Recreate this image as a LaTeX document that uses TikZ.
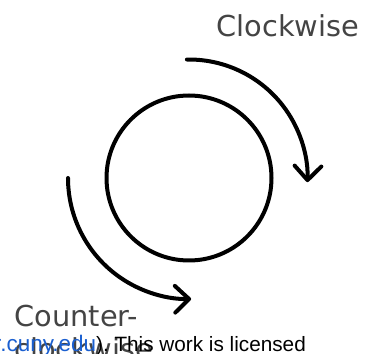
\documentclass[tikz,border=0pt]{standalone}
\usepackage{fontspec}
\newfontfamily\labelfont{DejaVu Sans}
\newfontfamily\pagefont{Liberation Sans}
\usetikzlibrary{arrows.meta,positioning}
\definecolor{labelgray}{HTML}{444444}
\definecolor{linkblue}{HTML}{1A5FD0}
\frenchspacing

\begin{document}
\begin{tikzpicture}[x=0.05cm,y=0.05cm,line width=5.7pt,
    >={Straight Barb[length=20pt,width=38pt,line cap=round,line join=round]},
    spin/.style={->,line cap=round},
    labeltext/.style={inner sep=0pt,outer sep=0pt,text=labelgray,font=\labelfont\fontsize{41pt}{47pt}\selectfont},
    pagetext/.style={inner sep=0pt,outer sep=0pt,font=\pagefont\fontsize{29.5pt}{34pt}\selectfont}]
  \useasboundingbox (0,0) rectangle (367,354);

  % Nodes
  \node[draw, circle, minimum size=8.25cm, inner sep=0pt] (Wheel) at (189,176) {};
  \coordinate (CWstart) at ([shift={(91:118.5)}]Wheel.center);
  \coordinate (CCWstart) at ([shift={(180:121)}]Wheel.center);

  % Arrows
  \draw[spin] (CWstart) arc[start angle=91, end angle=-2, radius=118.5];
  \draw[spin] (CCWstart) arc[start angle=180, end angle=271, radius=121];

  % Labels
  \node[labeltext, anchor=base west] (CWlabel) at (216.5,317) {Clockwise};
  \node[labeltext, anchor=base west, align=left] (CCWlabel) at (14.5,-6) {Counter-\\clockwise};

  \node[pagetext, text=linkblue, anchor=base west, font=\pagefont\fontsize{32pt}{36pt}\selectfont] (Link) at (-6,2) {r.cuny.edu};
  \node[pagetext, anchor=base west] (Notice) at (Link.base east) {). This work is licensed};
\end{tikzpicture}
\end{document}
